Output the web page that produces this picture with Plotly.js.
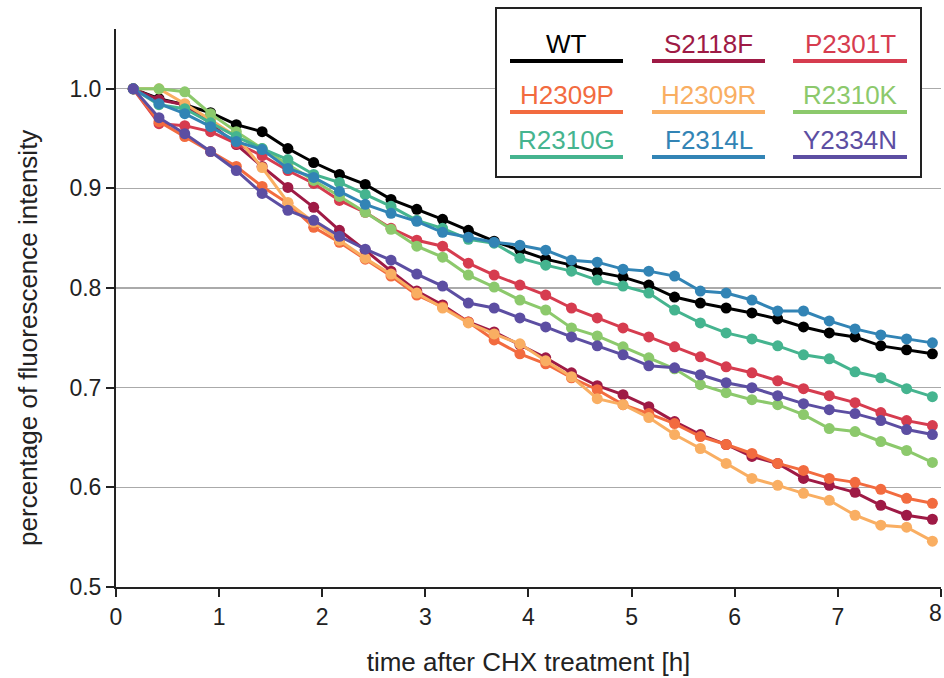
<!DOCTYPE html>
<html>
<head>
<meta charset="utf-8">
<script src="https://cdn.plot.ly/plotly-3.0.1.min.js"></script>
<style>html,body{margin:0;padding:0;background:#fff;}#chart{width:944px;height:678px;}</style>
</head>
<body>
<div id="chart"></div>
<script>
// time points [h]
const timeH = [0.167,0.417,0.667,0.917,1.167,1.417,1.667,1.917,2.167,2.417,2.667,2.917,3.167,3.417,3.667,3.917,
               4.167,4.417,4.667,4.917,5.167,5.417,5.667,5.917,6.167,6.417,6.667,6.917,7.167,7.417,7.667,7.917];

const seriesNames = ["WT","S2118F","P2301T","H2309P","H2309R","R2310K","R2310G","F2314L","Y2334N"];
const seriesColors = ["#000000","#9e1a45","#d63c4f","#f26b3f","#f9ae62","#8cc96c","#45b48f","#3284b5","#5c4ea2"];

const WT      = [1.0,0.990,0.984,0.976,0.964,0.957,0.940,0.926,0.914,0.904,0.889,0.879,0.869,0.858,0.847,0.838,0.829,0.823,0.816,0.811,0.803,0.791,0.785,0.780,0.775,0.769,0.761,0.755,0.751,0.742,0.738,0.734];
const S2118F  = [1.0,0.989,0.984,0.965,0.944,0.922,0.901,0.881,0.858,0.838,0.817,0.797,0.783,0.766,0.756,0.743,0.730,0.715,0.702,0.693,0.681,0.666,0.653,0.643,0.631,0.624,0.609,0.602,0.595,0.582,0.572,0.568];
const P2301T  = [1.0,0.965,0.963,0.957,0.945,0.933,0.918,0.905,0.888,0.876,0.860,0.848,0.842,0.825,0.813,0.803,0.793,0.780,0.770,0.760,0.751,0.741,0.731,0.721,0.715,0.707,0.699,0.692,0.685,0.675,0.667,0.662];
const H2309P  = [1.0,0.967,0.952,0.937,0.922,0.902,0.885,0.861,0.846,0.829,0.812,0.793,0.781,0.766,0.748,0.734,0.724,0.710,0.698,0.683,0.674,0.664,0.651,0.643,0.634,0.624,0.617,0.609,0.605,0.598,0.589,0.584];
const H2309R  = [1.0,1.000,0.985,0.969,0.952,0.921,0.886,0.866,0.848,0.830,0.814,0.795,0.780,0.765,0.754,0.744,0.727,0.711,0.689,0.683,0.670,0.653,0.639,0.624,0.609,0.602,0.594,0.587,0.572,0.562,0.560,0.546];
const R2310K  = [1.0,1.000,0.997,0.975,0.957,0.940,0.924,0.908,0.892,0.876,0.859,0.842,0.831,0.813,0.801,0.788,0.778,0.760,0.752,0.741,0.730,0.719,0.703,0.695,0.688,0.683,0.673,0.659,0.656,0.646,0.637,0.625];
const R2310G  = [1.0,0.984,0.980,0.966,0.952,0.940,0.929,0.914,0.906,0.894,0.882,0.868,0.860,0.849,0.845,0.830,0.823,0.817,0.808,0.802,0.795,0.778,0.765,0.755,0.749,0.742,0.733,0.729,0.716,0.710,0.699,0.691];
const F2314L  = [1.0,0.985,0.975,0.962,0.947,0.939,0.920,0.911,0.897,0.884,0.875,0.867,0.856,0.851,0.846,0.843,0.838,0.828,0.826,0.819,0.817,0.812,0.797,0.795,0.788,0.777,0.777,0.767,0.759,0.753,0.749,0.745];
const Y2334N  = [1.0,0.971,0.955,0.937,0.918,0.895,0.878,0.868,0.852,0.839,0.828,0.814,0.802,0.785,0.780,0.770,0.761,0.751,0.742,0.733,0.722,0.720,0.713,0.705,0.700,0.692,0.684,0.678,0.674,0.667,0.658,0.653];

const seriesValues = [WT,S2118F,P2301T,H2309P,H2309R,R2310K,R2310G,F2314L,Y2334N];

const xTicks = [0,1,2,3,4,5,6,7,8];
const xTickText = ["0","1","2","3","4","5","6","7",""]; // last label drawn as annotation so it stays on the page
const yTicks = [0.5,0.6,0.7,0.8,0.9,1.0];

const FONT = '"Liberation Sans", Arial, sans-serif';

const traces = seriesNames.map((n,i)=>({
  type:'scatter', mode:'lines+markers', name:n,
  x: timeH, y: seriesValues[i],
  line:{color:seriesColors[i], width:3},
  marker:{color:seriesColors[i], size:11},
  showlegend:false, cliponaxis:false, hoverinfo:'x+y+name'
}));

// plot area in pixels
const L=116, R=941, T=29, B=587;
const px = v => (v - L)/(R - L);
const py = v => (B - v)/(B - T);

const shapes = [{type:'rect', xref:'paper', yref:'paper',
  x0:px(496), x1:px(921), y0:py(177), y1:py(8),
  line:{color:'#222', width:2}, fillcolor:'#ffffff', layer:'above'}];
const annotations = [];
const colX = [[510,623],[652,765],[793,907]];
const rowLineY = [61,112,157];
const rowTextY = [44,95,140];
seriesNames.forEach((n,i)=>{
  const c = i%3, r = Math.floor(i/3);
  shapes.push({type:'line', xref:'paper', yref:'paper',
    x0:px(colX[c][0]), x1:px(colX[c][1]), y0:py(rowLineY[r]), y1:py(rowLineY[r]),
    line:{color:seriesColors[i], width:4}, layer:'above'});
  annotations.push({xref:'paper', yref:'paper', x:px((colX[c][0]+colX[c][1])/2), y:py(rowTextY[r]),
    text:n, showarrow:false, xanchor:'center', yanchor:'middle',
    font:{family:FONT, size:26, color:seriesColors[i]}});
});
// y-axis title, centred on the 0.5–1.0 span as in the reference
annotations.push({xref:'paper', yref:'y', x:px(28), y:0.75, xanchor:'center', yanchor:'middle',
  text:'percentage of fluorescence intensity', textangle:-90, showarrow:false,
  font:{family:FONT, size:26, color:'#222'}});
// last x tick label
annotations.push({xref:'paper', yref:'paper', x:1.0035, y:py(613), xanchor:'right', yanchor:'middle',
  text:String(xTicks[8]), showarrow:false, font:{family:FONT, size:23, color:'#222'}});

const layout = {
  width:944, height:678,
  margin:{l:L, r:944-R, t:T, b:678-B},
  paper_bgcolor:'#fff', plot_bgcolor:'#fff',
  font:{family:FONT, size:22, color:'#222'},
  xaxis:{range:[0,8.0005], tickvals:xTicks, ticktext:xTickText,
    showgrid:false, zeroline:false, showline:true, linecolor:'#222', linewidth:2,
    ticks:'outside', ticklen:8, tickwidth:2, tickcolor:'#222',
    tickfont:{family:FONT, size:23, color:'#222'},
    title:{text:'time after CHX treatment [h]', font:{family:FONT, size:26, color:'#222'}, standoff:24}},
  yaxis:{range:[0.5,1.06], tickvals:yTicks, ticktext:yTicks.map(v=>v.toFixed(1)),
    showgrid:true, gridcolor:'#aaaaaa', gridwidth:1.3, zeroline:false,
    showline:true, linecolor:'#222', linewidth:2,
    ticks:'outside', ticklen:8, tickwidth:2, tickcolor:'#222',
    tickfont:{family:FONT, size:23, color:'#222'}},
  shapes:shapes, annotations:annotations, showlegend:false
};

Plotly.newPlot('chart', traces, layout, {displayModeBar:false, staticPlot:true});
</script>
</body>
</html>
